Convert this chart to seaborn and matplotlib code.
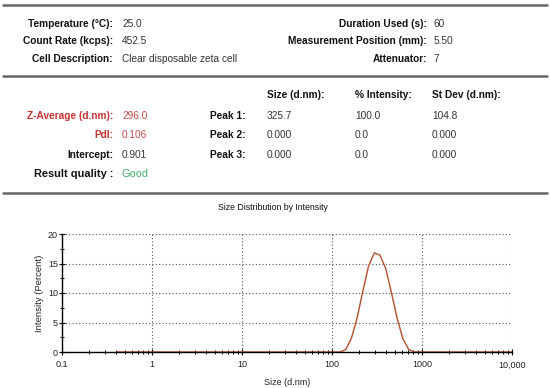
import numpy as np
import pandas as pd
import matplotlib
matplotlib.use("Agg")
import matplotlib.pyplot as plt
from matplotlib.ticker import FixedLocator, LogLocator, NullFormatter
import seaborn as sns

# size bins (d.nm) and intensity (%)
sizes = [0.4, 105.7, 122.4, 141.8, 164.2, 190.1, 220.2, 255.0, 295.3, 342.0,
         396.1, 458.7, 531.2, 615.1, 712.4, 825.0, 955.4, 10000]
intensity = [0.0, 0.0, 0.0, 0.4, 2.3, 5.8, 10.3, 14.6, 16.8, 16.4,
             14.1, 10.0, 5.6, 2.2, 0.4, 0.0, 0.0, 0.0]

x_ticks = [0.1, 1, 10, 100, 1000, 10000]
x_tick_labels = ["0.1", "1", "10", "100", "1000", "10,000"]
y_ticks = [0, 5, 10, 15, 20]

# header table
info_left = [("Temperature (°C):", "25.0"),
             ("Count Rate (kcps):", "452.5"),
             ("Cell Description:", "Clear disposable zeta cell")]
info_right = [("Duration Used (s):", "60"),
              ("Measurement Position (mm):", "5.50"),
              ("Attenuator:", "7")]
result_labels = ["Z-Average (d.nm):", "PdI:", "Intercept:", "Result quality :"]
result_values = ["296.0", "0.106", "0.901", "Good"]
peak_names = ["Peak 1:", "Peak 2:", "Peak 3:"]
peak_size = ["325.7", "0.000", "0.000"]
peak_pct = ["100.0", "0.0", "0.0"]
peak_sd = ["104.8", "0.000", "0.000"]
peak_headers = ["Size (d.nm):", "% Intensity:", "St Dev (d.nm):"]

sns.set_theme(style="white")
plt.rcParams["font.family"] = ["Liberation Sans", "DejaVu Sans"]

W, H = 550, 388
fig = plt.figure(figsize=(5.5, 3.88), dpi=100)
fig.patch.set_facecolor("white")


def fy(py):
    return 1 - py / H


def fx(px):
    return px / W


# separator lines
for py in [5, 76, 193]:
    fig.add_artist(plt.Line2D([fx(3), fx(547)], [fy(py), fy(py)],
                              color="#666666", lw=1.8, transform=fig.transFigure))

fs = 7.3
lab_color = "#111111"
val_color = "#333333"

for i, (lab, val) in enumerate(info_left):
    y = fy(24 + i * 17.5)
    fig.text(fx(113), y, lab, ha="right", va="center", fontsize=fs,
             fontweight="bold", color=lab_color)
    fig.text(fx(122), y, val, ha="left", va="center", fontsize=fs, color=val_color)

for i, (lab, val) in enumerate(info_right):
    y = fy(24 + i * 17.5)
    fig.text(fx(427), y, lab, ha="right", va="center", fontsize=fs,
             fontweight="bold", color=lab_color)
    fig.text(fx(434), y, val, ha="left", va="center", fontsize=fs, color=val_color)

# peak table header
for px, h in zip([267, 355, 432], peak_headers):
    fig.text(fx(px), fy(95), h, ha="left", va="center", fontsize=fs,
             fontweight="bold", color=lab_color)

res_y = [116, 135, 155, 174]
lab_colors = ["#c83232", "#c83232", lab_color, lab_color]
val_colors = ["#c84a4a", "#c84a4a", val_color, "#45b06a"]
for i in range(4):
    size = fs + (0.6 if i == 3 else 0)
    fig.text(fx(113), fy(res_y[i]), result_labels[i], ha="right", va="center",
             fontsize=size, fontweight="bold", color=lab_colors[i])
    fig.text(fx(122), fy(res_y[i]), result_values[i], ha="left", va="center",
             fontsize=size, color=val_colors[i])

for i in range(3):
    y = fy(res_y[i])
    fig.text(fx(210), y, peak_names[i], ha="left", va="center", fontsize=fs,
             fontweight="bold", color=lab_color)
    fig.text(fx(267), y, peak_size[i], ha="left", va="center", fontsize=fs, color=val_color)
    fig.text(fx(355), y, peak_pct[i], ha="left", va="center", fontsize=fs, color=val_color)
    fig.text(fx(432), y, peak_sd[i], ha="left", va="center", fontsize=fs, color=val_color)

# chart
ax = fig.add_axes([fx(62), fy(352), fx(512) - fx(62), fy(234) - fy(352)])
ax.set_facecolor("white")
df = pd.DataFrame({"size": sizes, "intensity": intensity})
sns.lineplot(data=df, x="size", y="intensity", ax=ax, color="#b4502d", lw=1.0)
ax.set_xscale("log")
ax.set_xlim(0.1, 10000)
ax.set_ylim(0, 20)
ax.set_xticks(x_ticks)
ax.set_xticklabels(x_tick_labels)
ax.xaxis.set_minor_locator(LogLocator(base=10, subs=np.arange(2, 10)))
ax.xaxis.set_minor_formatter(NullFormatter())
ax.set_yticks(y_ticks)
ax.yaxis.set_minor_locator(FixedLocator([2.5, 7.5, 12.5, 17.5]))

ax.grid(True, which="major", color="#555555", linestyle=(0, (1, 2)), lw=0.8)
for sp in ["top", "right"]:
    ax.spines[sp].set_visible(False)
for sp in ["left", "bottom"]:
    ax.spines[sp].set_color("black")
    ax.spines[sp].set_linewidth(1.0)

ax.tick_params(axis="both", which="major", direction="inout", length=4,
               width=0.8, color="black", labelsize=6.5, pad=1,
               bottom=True, left=True, labelcolor="#222222")
ax.tick_params(axis="x", which="major", pad=4)
ax.tick_params(axis="both", which="minor", direction="inout", length=3,
               width=0.7, color="black", bottom=True, left=True)

ax.set_xlabel("Size (d.nm)", fontsize=6.5, labelpad=6, color="#222222")
ax.set_ylabel("Intensity (Percent)", fontsize=6.8, labelpad=3, color="#222222")
fig.text(fx(273), fy(208), "Size Distribution by Intensity", ha="center",
         va="center", fontsize=6.3, color="#111111")

fig.savefig("out.png", dpi=100)
